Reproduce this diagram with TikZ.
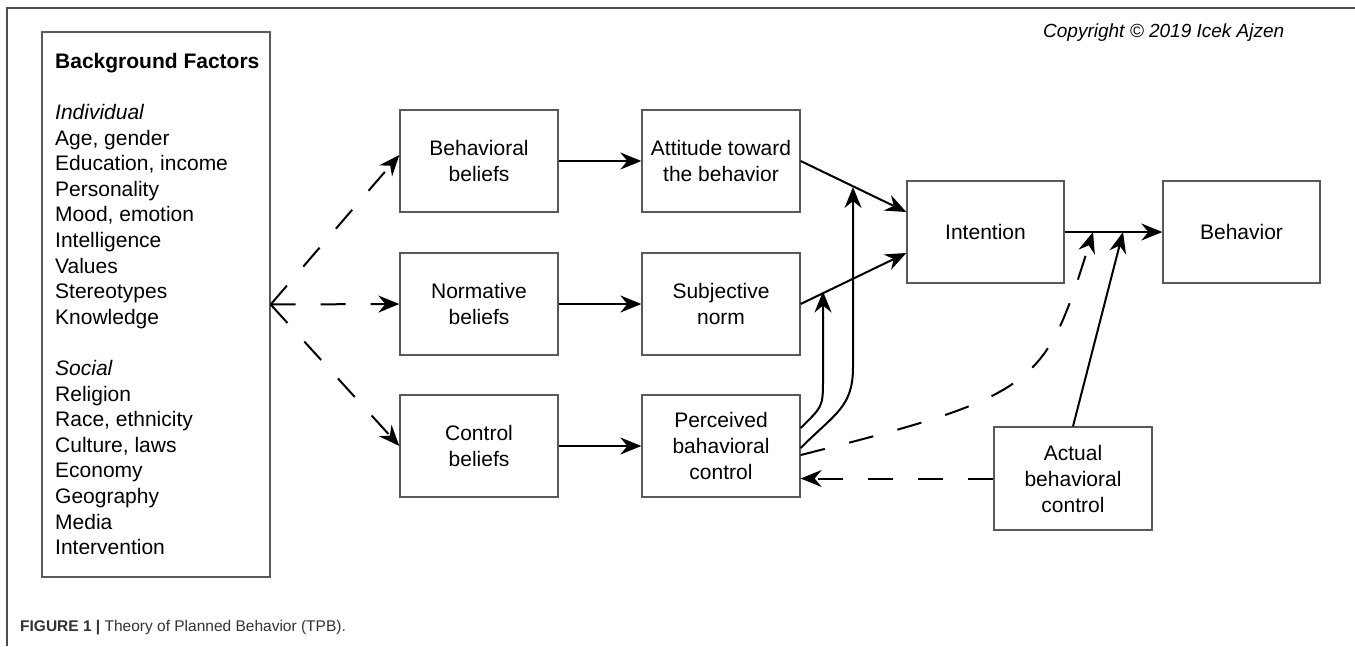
\documentclass[tikz,border=0pt]{standalone}
\usepackage{fontspec}
\setmainfont{Liberation Sans}
\usepackage{tikz}
\usetikzlibrary{arrows.meta,calc,positioning}

\begin{document}
\begin{tikzpicture}[x=1pt,y=-1pt,
	box/.style={draw=black!65, line width=1.3pt, minimum width=158pt, minimum height=102pt, inner sep=0pt, align=center, font=\fontsize{21}{26}\selectfont},
	arr/.style={line width=2pt, -{Stealth[length=21pt,width=17pt,inset=7pt]}},
	dasharr/.style={arr, dash pattern=on 25pt off 25pt}]
		
		\useasboundingbox (0,0) rectangle (1355,646);
		\draw[black!70, line width=1.5pt] (1355,8) -- (7,8) -- (7,646);
		
		\node[draw=black!65, line width=1.3pt, minimum width=228pt, minimum height=545pt] (bg) at (156,304.5) {};
		\node[anchor=west, align=left, inner sep=0pt, font=\fontsize{21}{25.6}\selectfont] (bgtext) at (55,304) {\textbf{Background Factors}\\[25.6pt]
			\textit{Individual}\\ Age, gender\\ Education, income\\ Personality\\ Mood, emotion\\ Intelligence\\ Values\\ Stereotypes\\ Knowledge\\[25.6pt]
			\textit{Social}\\ Religion\\ Race, ethnicity\\ Culture, laws\\ Economy\\ Geography\\ Media\\ Intervention};
		
		\node[box] (bb) at (479,161) {Behavioral\\beliefs};
		\node[box] (nb) at (479,304) {Normative\\beliefs};
		\node[box] (cb) at (479,446) {Control\\beliefs};
		\node[box] (att) at (721,161) {Attitude toward\\the behavior};
		\node[box] (sn) at (721,304) {Subjective\\norm};
		\node[box] (pbc) at (721,446) {Perceived\\bahavioral\\control};
		\node[box, minimum width=157pt] (int) at (985.5,232) {Intention};
		\node[box, minimum width=157pt] (beh) at (1241.5,232) {Behavior};
		\node[box, minimum height=103pt] (abc) at (1073,478.5) {Actual\\behavioral\\control};
		
		\node[anchor=west, inner sep=0pt, font=\fontsize{19}{22}\selectfont\itshape] (copy) at (1043,33) {Copyright \copyright{} 2019 Icek Ajzen};
		\node[anchor=west, inner sep=0pt, font=\fontsize{15.5}{18}\selectfont, text=black!80] (cap) at (20,628) {\textbf{FIGURE 1 |} Theory of Planned Behavior (TPB).};
		
		\coordinate (m1) at (823,291.5);
		\coordinate (m2) at (853,187);
		\coordinate (m3) at (1093,232);
		\coordinate (m4) at (1123,232);
		
		\draw[dasharr] (bg.east) -- ([yshift=6pt]bb.west);
		\draw[dasharr] (bg.east) -- (nb.west);
		\draw[dasharr] (bg.east) -- (cb.west);
		
		\draw[arr] (bb.east) -- (att.west);
		\draw[arr] (nb.east) -- (sn.west);
		\draw[arr] (cb.east) -- (pbc.west);
		
		\draw[arr] (att.east) -- ([yshift=20pt]int.west);
		\draw[arr] (sn.east) -- ([yshift=-21pt]int.west);
		\draw[arr] (int.east) -- (beh.west);
		
		\draw[arr] ([yshift=18pt]pbc.east) .. controls +(20,-20) and +(0,25) .. (823,383) -- (m1);
		\draw[arr] ([yshift=-2pt]pbc.east) .. controls +(35,-35) and +(0,40) .. (853,367) -- (m2);
		\draw[dasharr] ([yshift=-9pt]pbc.east) .. controls (1040,395) and (1045,385) .. (m3);
		\draw[arr] (abc.north) -- (m4);
		\draw[dasharr] (abc.west) -- (abc.west -| pbc.east);
		
\end{tikzpicture}
\end{document}
